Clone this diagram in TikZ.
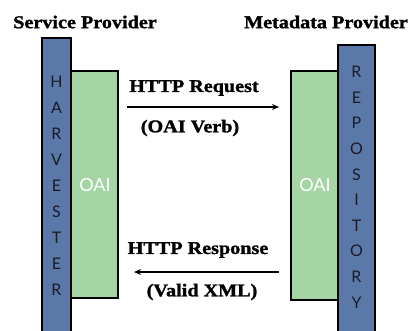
\documentclass[tikz,border=0pt]{standalone}
\usepackage{fontspec}
\setmainfont{Liberation Serif}
\newfontfamily\barfont{Lato}
\newfontfamily\headfont{Liberation Serif Bold}[FakeStretch=1.12, FakeBold=1.5]
\usetikzlibrary{arrows.meta}
\definecolor{barblue}{HTML}{5B79A8}
\definecolor{bargreen}{HTML}{A5D5A5}
\definecolor{lettercol}{HTML}{1A1A28}
\tikzset{
  bluebar/.style={draw=black, line width=2pt, fill=barblue},
  greenbar/.style={draw=black, line width=2pt, fill=bargreen},
  barletter/.style={font=\barfont\fontsize{16}{16}\selectfont, text=lettercol, inner sep=0pt},
  oailabel/.style={font=\barfont\fontsize{18}{18}\selectfont, text=white, inner sep=0pt},
  title/.style={font=\headfont\fontsize{18}{18}\selectfont, inner sep=0pt},
  msg/.style={font=\headfont\fontsize{18}{18}\selectfont, inner sep=0pt},
  flow/.style={line width=2pt, -{Stealth[length=7pt,width=6pt]}}
}
\begin{document}
\begin{tikzpicture}[x=1pt,y=-1pt]
\useasboundingbox (0,0) rectangle (411,330);
\clip (0,0) rectangle (411,330);
% bars
\draw[bluebar] (42,38) rectangle (71,340);
\draw[greenbar] (71,71) rectangle (118,298);
\draw[greenbar] (291,71) rectangle (338,300);
\draw[bluebar] (338,45) rectangle (375,340);
% titles
\node[title] (sp) at (85,22) {Service Provider};
\node[title] (mp) at (326,22) {Metadata Provider};
% harvester letters
\foreach \l [count=\i] in {H,A,R,V,E,S,T,E,R}
  \node[barletter] (h\i) at (56.5,{82+26*(\i-1)}) {\l};
% repository letters
\foreach \l [count=\i] in {R,E,P,O,S,I,T,O,R,Y}
  \node[barletter] (r\i) at (356.5,{72+25.6*(\i-1)}) {\l};
% OAI labels
\node[oailabel] (oaiL) at (95,185) {OAI};
\node[oailabel] (oaiR) at (315,185) {OAI};
% messages
\node[msg] (req) at (194,88) {HTTP Request};
\node[msg] (verb) at (190,128) {(OAI Verb)};
\node[msg] (resp) at (198,250) {HTTP Response};
\node[msg] (xml) at (202,292) {(Valid XML)};
\coordinate (reqS) at (127,107);
\coordinate (reqE) at (279,107);
\coordinate (respS) at (279,272);
\coordinate (respE) at (134,272);
\draw[flow] (reqS) -- (reqE);
\draw[flow] (respS) -- (respE);
\end{tikzpicture}
\end{document}
